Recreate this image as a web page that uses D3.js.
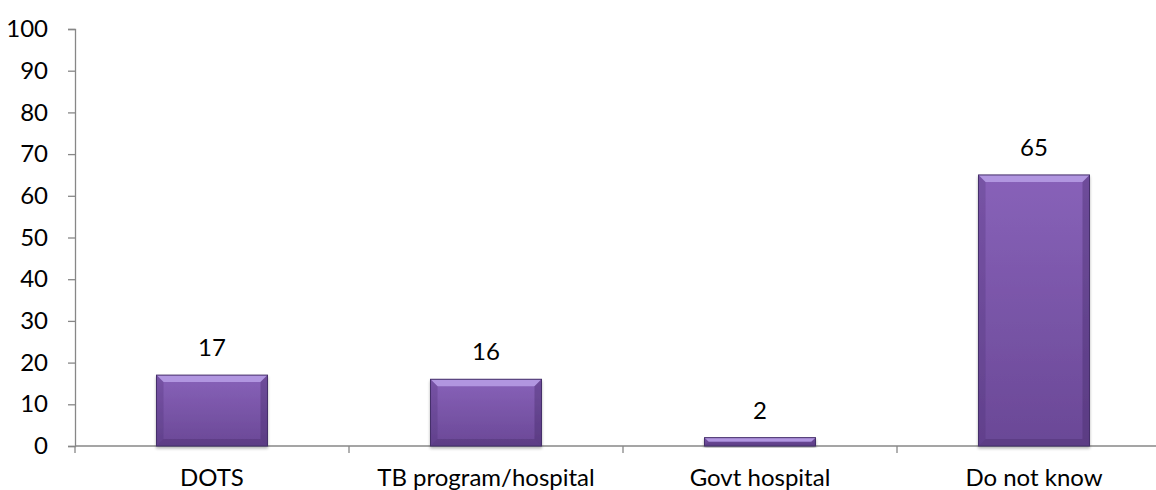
<!DOCTYPE html>
<html>
<head>
<meta charset="utf-8">
<script src="https://cdn.jsdelivr.net/npm/d3@7"></script>
<style>
  html, body { margin: 0; padding: 0; background: #fff; }
  svg { display: block; }
  text { font-family: Lato, "Open Sans", sans-serif; fill: #000; }
</style>
</head>
<body>
<svg id="chart" width="1156" height="490"></svg>
<script>
// Where respondents would go for TB treatment (%)
const categories = ["DOTS", "TB program/hospital", "Govt hospital", "Do not know"];
const values = [17, 16, 2, 65];
const yTicks = [0, 10, 20, 30, 40, 50, 60, 70, 80, 90, 100];

const svg = d3.select("#chart");
const axisColor = "#878787";
const fontSize = 24;

const x = d3.scaleBand()
  .domain(categories)
  .range([75, 1171])
  .paddingInner(0.595)
  .paddingOuter(0.2975);

const y = d3.scaleLinear().domain([0, 100]).range([446, 29]);

const defs = svg.append("defs");
const body = defs.append("linearGradient")
  .attr("id", "barFill").attr("x1", 0).attr("y1", 0).attr("x2", 0).attr("y2", 1);
body.append("stop").attr("offset", "0%").attr("stop-color", "#8862b9");
body.append("stop").attr("offset", "100%").attr("stop-color", "#6a4896");

const shadow = defs.append("filter").attr("id", "shadow")
  .attr("x", "-10%").attr("y", "-10%").attr("width", "120%").attr("height", "130%");
shadow.append("feGaussianBlur").attr("in", "SourceAlpha").attr("stdDeviation", 1.5);
shadow.append("feOffset").attr("dx", 0).attr("dy", 2).attr("result", "b");
shadow.append("feComponentTransfer").append("feFuncA").attr("type", "linear").attr("slope", 0.3);
const merge = shadow.append("feMerge");
merge.append("feMergeNode");
merge.append("feMergeNode").attr("in", "SourceGraphic");

// Y axis
const yAxis = svg.append("g").attr("transform", "translate(75,0)")
  .call(d3.axisLeft(y).tickValues(yTicks).tickSize(7).tickPadding(20).tickFormat(d3.format("d")));
yAxis.select(".domain").attr("stroke", axisColor).attr("stroke-width", 1.3);
yAxis.selectAll(".tick line").attr("stroke", axisColor).attr("stroke-width", 1.3);
yAxis.selectAll(".tick text").attr("font-size", fontSize).attr("font-family", "Lato, sans-serif").attr("fill", "#000");

// X axis baseline with category dividers
const x0 = x.range()[0], x1 = x.range()[1];
const xAxis = svg.append("g");
xAxis.append("line").attr("x1", x0).attr("x2", x1).attr("y1", y(0)).attr("y2", y(0))
  .attr("stroke", axisColor).attr("stroke-width", 1.3);
const bounds = categories.map((c, i) => x0 + i * x.step()).concat([x1]);
xAxis.selectAll(".divider").data(bounds).join("line")
  .attr("class", "divider")
  .attr("x1", d => d).attr("x2", d => d)
  .attr("y1", y(0)).attr("y2", y(0) + 7)
  .attr("stroke", axisColor).attr("stroke-width", 1.3);
xAxis.selectAll(".cat").data(categories).join("text")
  .attr("class", "cat")
  .attr("x", d => x(d) + x.bandwidth() / 2)
  .attr("y", 486)
  .attr("text-anchor", "middle")
  .attr("font-size", fontSize)
  .text(d => d);

// Bars with bevelled edges
const data = categories.map((c, i) => ({ c, v: values[i] }));
const bars = svg.append("g").selectAll("g").data(data).join("g").attr("filter", "url(#shadow)");

bars.append("rect")
  .attr("x", d => x(d.c))
  .attr("y", d => y(d.v))
  .attr("width", x.bandwidth())
  .attr("height", d => y(0) - y(d.v))
  .attr("fill", "url(#barFill)");

const bev = d => Math.min(7, (y(0) - y(d.v)) / 2);

// top bevel (light)
bars.append("polygon")
  .attr("points", d => {
    const l = x(d.c), r = l + x.bandwidth(), t = y(d.v), b = bev(d);
    return [[l, t], [r, t], [r - b, t + b], [l + b, t + b]].join(" ");
  })
  .attr("fill", "#b196e0");

// left bevel
bars.append("polygon")
  .attr("points", d => {
    const l = x(d.c), t = y(d.v), bot = y(0), b = bev(d);
    return [[l, t], [l + b, t + b], [l + b, bot - b], [l, bot]].join(" ");
  })
  .attr("fill", "#4a2f72").attr("opacity", 0.28);

// right bevel
bars.append("polygon")
  .attr("points", d => {
    const r = x(d.c) + x.bandwidth(), t = y(d.v), bot = y(0), b = bev(d);
    return [[r, t], [r - b, t + b], [r - b, bot - b], [r, bot]].join(" ");
  })
  .attr("fill", "#3e2660").attr("opacity", 0.35);

// bottom bevel
bars.append("polygon")
  .attr("points", d => {
    const l = x(d.c), r = l + x.bandwidth(), bot = y(0), b = bev(d);
    return [[l, bot], [r, bot], [r - b, bot - b], [l + b, bot - b]].join(" ");
  })
  .attr("fill", "#3e2660").attr("opacity", 0.3);

// outline on top of bevels
bars.append("rect")
  .attr("x", d => x(d.c))
  .attr("y", d => y(d.v))
  .attr("width", x.bandwidth())
  .attr("height", d => y(0) - y(d.v))
  .attr("fill", "none")
  .attr("stroke", "#45306a")
  .attr("stroke-width", 1);

// Value labels
svg.append("g").selectAll("text").data(data).join("text")
  .attr("x", d => x(d.c) + x.bandwidth() / 2)
  .attr("y", d => y(d.v) - 19)
  .attr("text-anchor", "middle")
  .attr("font-size", fontSize)
  .text(d => d.v);
</script>
</body>
</html>
